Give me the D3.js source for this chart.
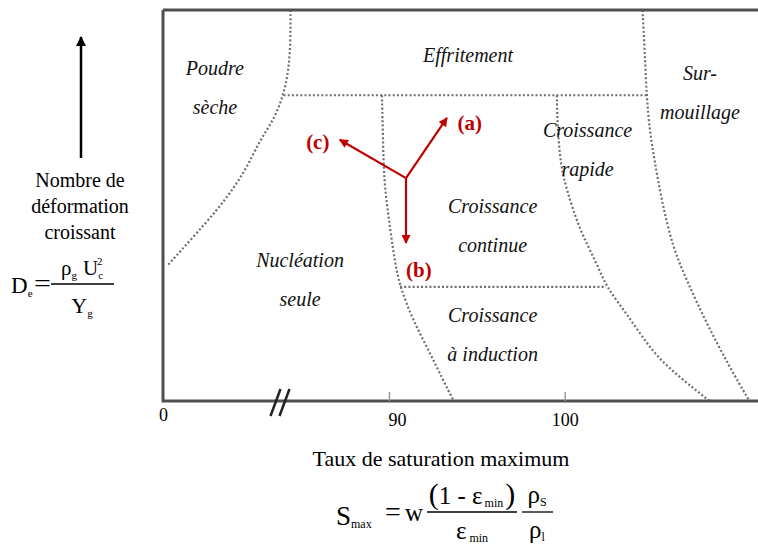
<!DOCTYPE html>
<html>
<head>
<meta charset="utf-8">
<script src="https://cdn.jsdelivr.net/npm/d3@7"></script>
<style>
  body { margin: 0; background: #fff; }
  svg text { font-family: "Liberation Serif", "Times New Roman", serif; }
</style>
</head>
<body>
<div id="chart"></div>
<script>
// Saturation axis: broken between 0 and ~84
var sTicks = [0, 90, 100];
var sBreak = 83.8;
var sMax = 111;

// Regime boundaries, as [S, De] pairs (De on an arbitrary 0-100 scale)
var poudreLimit = [[84.4, 100], [84.4, 92.3], [84.3, 84.7], [84.0, 78.2], [79.5, 72.0], [69.5, 66.8],
                   [60.2, 59.8], [50.1, 54.2], [38.7, 48.8], [21.5, 41.9], [3.6, 34.8]];
var nucleationLimit = [[89.6, 78.2], [89.66, 66.8], [89.72, 56.5], [89.94, 48.1], [90.34, 35.3],
                       [90.63, 29.2], [91.36, 20.7], [92.33, 12.3], [93.07, 5.4], [93.69, 0]];
var rapideLimit = [[99.55, 78.2], [99.6, 69.3], [99.77, 60.4], [100.11, 54.0], [100.85, 43.7],
                   [101.82, 35.3], [102.39, 28.9], [103.52, 22.5], [105.0, 12.3], [106.53, 6.1], [108.24, 0]];
var mouillageLimit = [[104.43, 100], [104.55, 89.8], [104.66, 78.2], [104.83, 69.3], [105.11, 61.6],
                      [105.51, 51.4], [106.14, 39.4], [106.93, 31.0], [108.07, 19.9], [109.38, 8.7], [110.51, 0]];
var effritementLimit = [[84.0, 78.2], [104.66, 78.2]];
var inductionLimit = [[90.63, 29.2], [102.35, 29.2]];

// Regime names, anchored at [S, De] of the first line
var regimes = [
  {lines: ["Poudre", "sèche"], S: 37.2, De: 83.4},
  {lines: ["Effritement"], S: 94.5, De: 86.7},
  {lines: ["Sur-", "mouillage"], S: 107.7, De: 82.1},
  {lines: ["Croissance", "rapide"], S: 101.3, De: 67.5},
  {lines: ["Croissance", "continue"], S: 95.9, De: 48.0},
  {lines: ["Nucléation", "seule"], S: 84.94, De: 34.3},
  {lines: ["Croissance", "à induction"], S: 95.9, De: 20.1}
];

// Direction arrows (a), (b), (c) from a common origin
var arrowOrigin = [90.97, 57.0];
var arrows = [
  {name: "(a)", tip: [93.3, 72.4], label: [94.6, 69.3]},
  {name: "(b)", tip: [90.97, 40.4], label: [91.7, 31.7]},
  {name: "(c)", tip: [87.2, 66.8], label: [85.95, 64.5]}
];

var width = 758, height = 547;

var x = d3.scaleLinear().domain([0, sBreak, sMax]).range([163, 280, 758]);
var y = d3.scaleLinear().domain([0, 100]).range([401, 10]);

var svg = d3.select("#chart").append("svg")
    .attr("width", width)
    .attr("height", height);

var defs = svg.append("defs");
function marker(id, color, w, h) {
  defs.append("marker")
      .attr("id", id)
      .attr("viewBox", "0 0 10 10")
      .attr("refX", 9).attr("refY", 5)
      .attr("markerUnits", "userSpaceOnUse")
      .attr("markerWidth", w).attr("markerHeight", h)
      .attr("orient", "auto")
    .append("path")
      .attr("d", "M0,0 L10,5 L0,10 z")
      .attr("fill", color);
}
marker("redhead", "#c00000", 11, 9);
marker("blackhead", "#000", 12, 10);

// boundaries (smoothed through the read points)
var line = d3.line()
    .x(function(d) { return x(d[0]); })
    .y(function(d) { return y(d[1]); })
    .curve(d3.curveBasis);

svg.append("g")
    .selectAll("path")
    .data([poudreLimit, nucleationLimit, rapideLimit, mouillageLimit, effritementLimit, inductionLimit])
    .enter().append("path")
    .attr("d", line)
    .attr("fill", "none")
    .attr("stroke", "#6e6e6e")
    .attr("stroke-width", 2.2)
    .attr("stroke-dasharray", "2,2.2");

// frame (no right side)
svg.append("path")
    .attr("d", "M" + x(0) + "," + y(100) + "H" + x(sMax) + "M" + x(0) + "," + y(100) + "V" + y(0) + "H" + x(sMax))
    .attr("fill", "none")
    .attr("stroke", "#505050")
    .attr("stroke-width", 3);

// bottom axis: small ticks pointing up
var axis = svg.append("g")
    .attr("transform", "translate(0," + y(0) + ")")
    .call(d3.axisBottom(x).tickValues(sTicks).tickSizeInner(-9).tickSizeOuter(0).tickPadding(12));
axis.select(".domain").remove();
axis.selectAll(".tick line").attr("stroke", "#999").attr("stroke-width", 1.5)
    .attr("display", function(d) { return d === 0 ? "none" : null; });
axis.selectAll(".tick text")
    .attr("font-family", "Liberation Serif")
    .attr("font-size", 18)
    .attr("fill", "#000")
    .attr("dx", function(d) { return d === 90 ? 8 : 0; })
    .attr("y", function(d) { return d === 0 ? 7 : 12; });

// axis break marks
var brk = x(sBreak);
svg.append("g").selectAll("line")
    .data([-4.5, 4.5])
    .enter().append("line")
    .attr("x1", function(d) { return brk + d - 5; }).attr("y1", y(0) + 15)
    .attr("x2", function(d) { return brk + d + 5; }).attr("y2", y(0) - 12)
    .attr("stroke", "#222").attr("stroke-width", 2.5);

// regime labels
svg.append("g").selectAll("text")
    .data(regimes)
    .enter().append("text")
    .attr("text-anchor", "middle")
    .attr("font-style", "italic")
    .attr("font-size", 20)
    .attr("fill", "#111")
    .each(function(d) {
      var t = d3.select(this);
      d.lines.forEach(function(l, i) {
        t.append("tspan")
          .attr("x", x(d.S))
          .attr("y", y(d.De) + i * 39)
          .text(l);
      });
    });

// red arrows
var ag = svg.append("g");
ag.selectAll("line")
    .data(arrows)
    .enter().append("line")
    .attr("x1", x(arrowOrigin[0])).attr("y1", y(arrowOrigin[1]))
    .attr("x2", function(d) { return x(d.tip[0]); })
    .attr("y2", function(d) { return y(d.tip[1]); })
    .attr("stroke", "#c00000")
    .attr("stroke-width", 2.2)
    .attr("marker-end", "url(#redhead)");
ag.selectAll("text")
    .data(arrows)
    .enter().append("text")
    .attr("x", function(d) { return x(d.label[0]); })
    .attr("y", function(d) { return y(d.label[1]); })
    .attr("text-anchor", "middle")
    .attr("font-weight", "bold")
    .attr("font-size", 21)
    .attr("fill", "#c00000")
    .text(function(d) { return d.name; });

// left: vertical arrow and De label
svg.append("line")
    .attr("x1", 81).attr("y1", 158)
    .attr("x2", 81).attr("y2", 37)
    .attr("stroke", "#000").attr("stroke-width", 2.5)
    .attr("marker-end", "url(#blackhead)");

var leftText = svg.append("text")
    .attr("text-anchor", "middle")
    .attr("font-size", 20);
["Nombre de", "déformation", "croissant"].forEach(function(l, i) {
  leftText.append("tspan").attr("x", 80).attr("y", 187 + i * 26).text(l);
});

var de = svg.append("g").attr("font-size", 23);
de.append("text").attr("x", 11).attr("y", 293)
    .text("D").append("tspan").attr("font-size", 11).attr("dy", 4).text("e");
de.append("text").attr("x", 34).attr("y", 292).attr("font-size", 26).attr("transform", "translate(34,292) scale(1.15,1) translate(-34,-292)").text("=");
de.append("line").attr("x1", 51).attr("x2", 114).attr("y1", 284).attr("y2", 284)
    .attr("stroke", "#000").attr("stroke-width", 1.3);
var num = de.append("text").attr("x", 82).attr("y", 275).attr("text-anchor", "middle").attr("font-size", 21);
num.append("tspan").text("ρ");
num.append("tspan").attr("font-size", 11).attr("dy", 4).text("g");
num.append("tspan").attr("dx", 6).attr("dy", -4).text("U");
num.append("tspan").attr("font-size", 11).attr("dy", 4).text("c");
num.append("tspan").attr("font-size", 11).attr("dx", -6).attr("dy", -14).text("2");
de.append("text").attr("x", 82).attr("y", 313).attr("text-anchor", "middle").attr("font-size", 22)
    .text("Y").append("tspan").attr("font-size", 11).attr("dy", 4).text("g");

// bottom: x axis title and Smax formula
svg.append("text")
    .attr("x", 441).attr("y", 466)
    .attr("text-anchor", "middle")
    .attr("font-size", 22)
    .text("Taux de saturation maximum");

var sm = svg.append("g").attr("font-size", 25);
sm.append("text").attr("x", 336).attr("y", 525).attr("font-size", 27)
    .text("S").append("tspan").attr("font-size", 12).attr("dy", 3).text("max");
sm.append("text").attr("x", 385).attr("y", 521).attr("font-size", 28).text("=");
sm.append("text").attr("x", 405).attr("y", 521).text("w");
sm.append("line").attr("x1", 427).attr("x2", 517).attr("y1", 512).attr("y2", 512)
    .attr("stroke", "#000").attr("stroke-width", 1.3);
sm.append("line").attr("x1", 522).attr("x2", 553).attr("y1", 512).attr("y2", 512)
    .attr("stroke", "#000").attr("stroke-width", 1.3);
var n1 = sm.append("text").attr("x", 472).attr("y", 504).attr("text-anchor", "middle");
n1.append("tspan").attr("font-size", 30).text("(");
n1.append("tspan").text("1 - ε");
n1.append("tspan").attr("font-size", 12).attr("dx", 2).attr("dy", 3).text("min");
n1.append("tspan").attr("font-size", 30).attr("dx", 2).attr("dy", -3).text(")");
var d1 = sm.append("text").attr("x", 472).attr("y", 539).attr("text-anchor", "middle");
d1.append("tspan").text("ε");
d1.append("tspan").attr("font-size", 12).attr("dx", 3).attr("dy", 3).text("min");
sm.append("text").attr("x", 537).attr("y", 503).attr("text-anchor", "middle")
    .text("ρ").append("tspan").attr("font-size", 12).attr("dy", 3).text("S");
sm.append("text").attr("x", 537).attr("y", 538).attr("text-anchor", "middle")
    .text("ρ").append("tspan").attr("font-size", 12).attr("dy", 3).text("l");
</script>
</body>
</html>
